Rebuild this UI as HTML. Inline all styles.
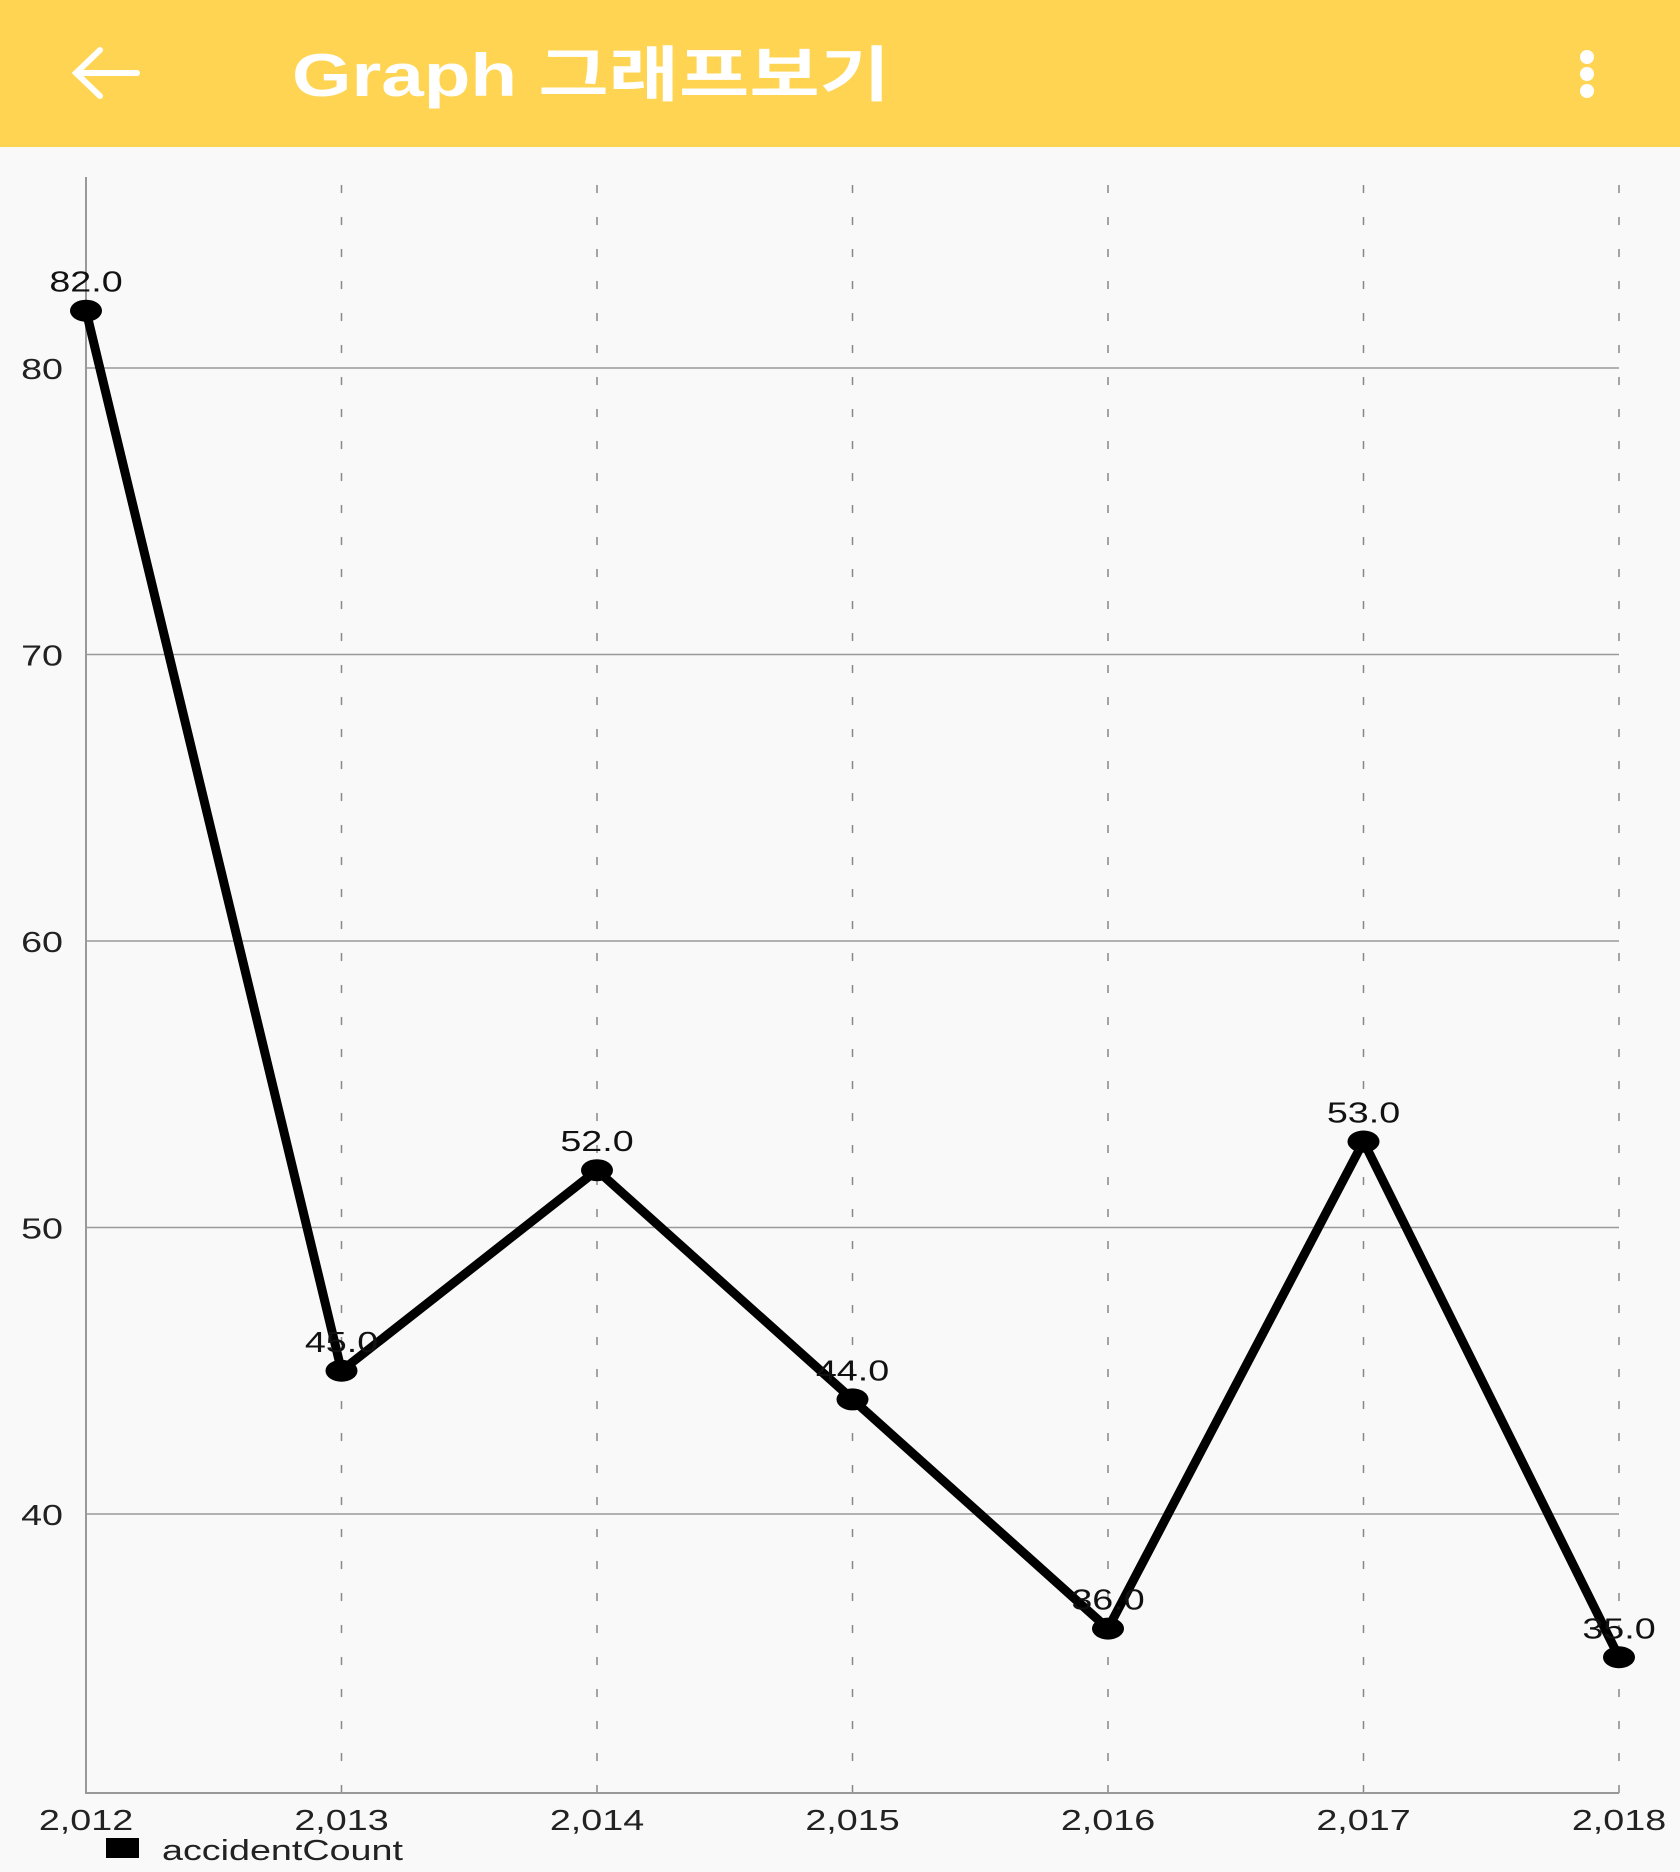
<!DOCTYPE html>
<html><head><meta charset="utf-8"><style>
html,body{margin:0;padding:0;width:1680px;height:1872px;overflow:hidden;background:#f9f9f9;font-family:"Liberation Sans","Noto Sans CJK KR",sans-serif}
</style></head><body>
<svg id="chart" width="1680" height="1872" xmlns="http://www.w3.org/2000/svg">
<rect x="0" y="0" width="1680" height="147" fill="#ffd452"/>
<g stroke="#fff" stroke-width="6" fill="none" stroke-linecap="round">
<line x1="76" y1="73" x2="137" y2="73"/><polyline points="100,50 76,73 100,96"/></g>
<text x="292" y="96" fill="#fff" font-size="60" font-weight="bold" textLength="598" lengthAdjust="spacingAndGlyphs">Graph 그래프보기</text>
<g fill="#fff"><circle cx="1587" cy="57" r="7"/><circle cx="1587" cy="74" r="7"/><circle cx="1587" cy="91" r="7"/></g>
<g id="grid"></g><g id="plot"></g>
</svg>
<script>
const categories=["2,012","2,013","2,014","2,015","2,016","2,017","2,018"];
const values=[82,45,52,44,36,53,35];
const yTicks=[40,50,60,70,80];
const legendLabel="accidentCount";
const NS="http://www.w3.org/2000/svg";
const L=86,R=1619,T=177,B=1793;
const SX=1.45,SY=1.12;
function xS(i){return L+i*(R-L)/(categories.length-1);}
function yS(v){return 368+(80-v)*(1514-368)/40;}
function mk(tag,attrs,parent,txt){const e=document.createElementNS(NS,tag);for(const k in attrs)e.setAttribute(k,attrs[k]);if(txt!==undefined)e.textContent=txt;parent.appendChild(e);return e;}
function tx(x,y,anchor,size,txt,parent){return mk('text',{x:0,y:0,'text-anchor':anchor,'font-size':size,fill:'#222',transform:`translate(${x},${y}) scale(${SX},${SY})`},parent,txt);}
const grid=document.getElementById('grid'),plot=document.getElementById('plot');
yTicks.forEach(v=>{
 const l=mk('line',{x1:L,x2:R,y1:yS(v),y2:yS(v),stroke:'#999','stroke-width':1.5},grid);
 
 
 const t=tx(63,yS(v)+11,'end',26,String(v),grid);
 
 
});
categories.forEach((c,i)=>{
 if(i>0){const d=mk('line',{x1:xS(i),x2:xS(i),y1:185,y2:B,stroke:'#888','stroke-width':1.5,'stroke-dasharray':'8 24'},grid);
 
 }
 const t=tx(xS(i),1830,'middle',26,c,grid);
 
 
});
const ax=mk('polyline',{points:`${L},${T} ${L},${B} ${R},${B}`,fill:'none',stroke:'#999','stroke-width':2},grid);


const line=mk('polyline',{points:values.map((v,i)=>xS(i)+','+yS(v)).join(' '),fill:'none',stroke:'#000','stroke-width':9,'stroke-linejoin':'round'},plot);


values.forEach((v,i)=>{
 const p=mk('ellipse',{cx:xS(i),cy:yS(v),rx:16,ry:11,fill:'#000'},plot);
 
 
 const t=tx(xS(i),yS(v)-19,'middle',26,v.toFixed(1),plot);
 t.setAttribute('fill','#111');
 
 
});
const sq=mk('rect',{x:106,y:1838,width:33,height:20,fill:'#000'},plot);


const lt=tx(162,1860,'start',26,legendLabel,plot);


</script>
</body></html>
